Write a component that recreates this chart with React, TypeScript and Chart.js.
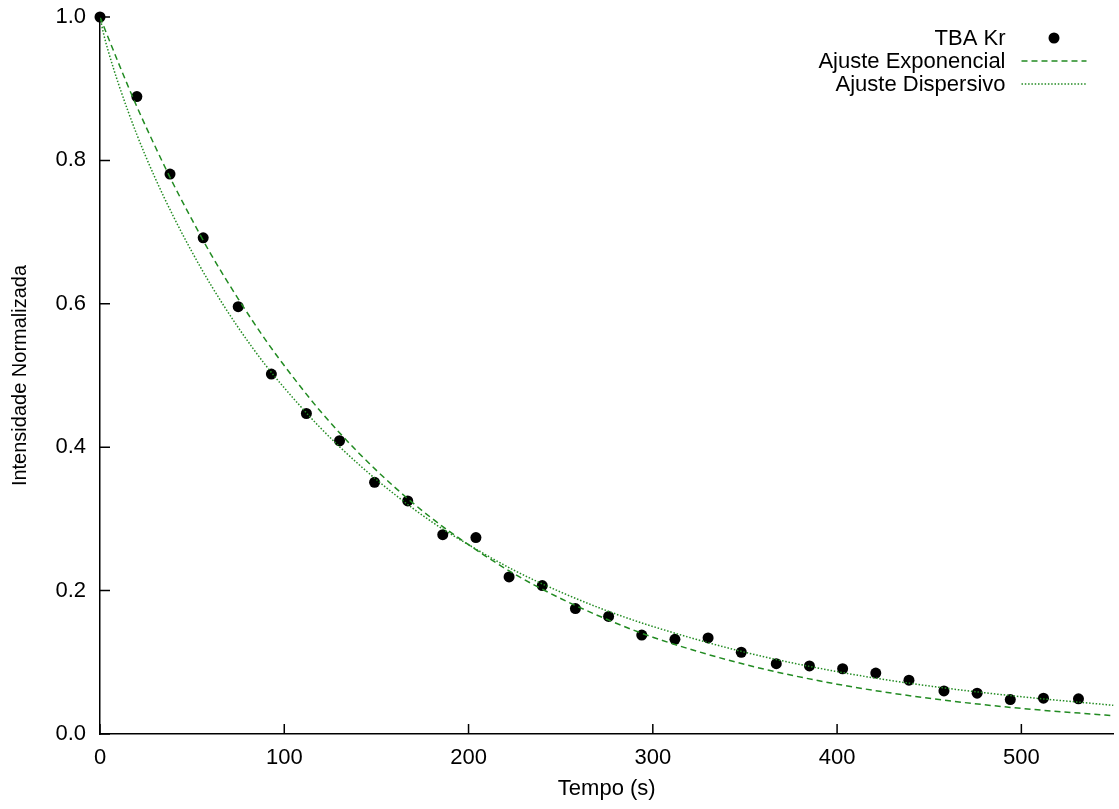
import React, { useEffect, useRef } from "react";
import { Chart, registerables } from "chart.js";

Chart.register(...registerables);

// Measured data: TBA Kr
const timeSeconds = [0, 20, 38, 56, 75, 93, 112, 130, 149, 167, 186, 204, 222, 240, 258, 276, 294, 312, 330, 348, 367, 385, 403, 421, 439, 458, 476, 494, 512, 531];
const tbaKr = [1.0, 0.889, 0.781, 0.692, 0.596, 0.502, 0.447, 0.409, 0.351, 0.325, 0.278, 0.274, 0.219, 0.207, 0.175, 0.164, 0.138, 0.132, 0.134, 0.114, 0.098, 0.095, 0.091, 0.085, 0.075, 0.060, 0.057, 0.048, 0.050, 0.049];

const expTimes = [0, 10, 20, 30, 40, 50, 60, 75, 90, 105, 120, 140, 160, 180, 200, 225, 250, 275, 300, 350, 400, 450, 500, 550];
const expValues = [1.0, 0.936, 0.875, 0.819, 0.766, 0.717, 0.670, 0.607, 0.549, 0.497, 0.449, 0.393, 0.344, 0.301, 0.264, 0.223, 0.189, 0.160, 0.135, 0.097, 0.0695, 0.0498, 0.0357, 0.0256];

const dispTimes = [0, 2, 5, 10, 20, 30, 40, 50, 60, 75, 90, 105, 120, 140, 160, 180, 200, 225, 250, 275, 300, 350, 400, 450, 500, 550];
const dispValues = [1.0, 0.976, 0.948, 0.907, 0.836, 0.775, 0.721, 0.672, 0.627, 0.567, 0.514, 0.468, 0.426, 0.377, 0.334, 0.296, 0.264, 0.228, 0.198, 0.172, 0.150, 0.114, 0.087, 0.067, 0.052, 0.040];

const xTickValues = [0, 100, 200, 300, 400, 500];
const yTickValues = [0, 0.2, 0.4, 0.6, 0.8, 1.0];

const seriesLabels = ["TBA Kr", "Ajuste Exponencial", "Ajuste Dispersivo"];

const FONT = "'Liberation Sans', Arial, Helvetica, sans-serif";
const GREEN = "rgb(34,139,34)";

const inwardTicks = {
  id: "inwardTicks",
  afterDatasetsDraw(chart: any) {
    const { ctx, chartArea, scales } = chart;
    const xs = scales.x;
    const ys = scales.y;
    ctx.save();
    ctx.strokeStyle = "#000";
    ctx.lineWidth = 1.5;
    ctx.beginPath();
    ys.ticks.forEach((t: any) => {
      const py = ys.getPixelForValue(t.value);
      ctx.moveTo(chartArea.left, py);
      ctx.lineTo(chartArea.left + 10, py);
    });
    xs.ticks.forEach((t: any) => {
      const px = xs.getPixelForValue(t.value);
      ctx.moveTo(px, chartArea.bottom);
      ctx.lineTo(px, chartArea.bottom - 10);
    });
    ctx.stroke();
    ctx.restore();
  },
};

const rightLegend = {
  id: "rightLegend",
  afterDraw(chart: any) {
    const { ctx, chartArea } = chart;
    const textRight = chartArea.right - 108;
    const sampleL = chartArea.right - 92;
    const sampleR = chartArea.right - 27;
    const top = chartArea.top + 21;
    const rowH = 23;
    ctx.save();
    ctx.font = `22px ${FONT}`;
    ctx.textAlign = "right";
    ctx.textBaseline = "middle";
    chart.data.datasets.forEach((ds: any, i: number) => {
      const y = top + i * rowH;
      ctx.fillStyle = "#000";
      ctx.fillText(ds.label, textRight, y + 1);
      if (ds.showLine) {
        ctx.strokeStyle = ds.borderColor;
        ctx.lineWidth = ds.borderWidth;
        ctx.setLineDash(ds.borderDash || []);
        ctx.beginPath();
        ctx.moveTo(sampleL, y);
        ctx.lineTo(sampleR, y);
        ctx.stroke();
        ctx.setLineDash([]);
      } else {
        ctx.fillStyle = ds.pointBackgroundColor;
        ctx.beginPath();
        ctx.arc((sampleL + sampleR) / 2, y, ds.pointRadius, 0, Math.PI * 2);
        ctx.fill();
      }
    });
    ctx.restore();
  },
};

export default function App() {
  const canvasRef = useRef<HTMLCanvasElement | null>(null);

  useEffect(() => {
    const canvas = canvasRef.current;
    if (!canvas) return;
    const chart = new Chart(canvas, {
      type: "scatter",
      data: {
        datasets: [
          {
            label: seriesLabels[0],
            data: timeSeconds.map((t, i) => ({ x: t, y: tbaKr[i] })),
            showLine: false,
            pointRadius: 5.5,
            pointBackgroundColor: "#000",
            pointBorderWidth: 0,
            pointBorderColor: "#000",
            clip: false,
            order: 3,
          },
          {
            label: seriesLabels[1],
            data: expTimes.map((t, i) => ({ x: t, y: expValues[i] })),
            showLine: true,
            borderColor: GREEN,
            borderWidth: 1.5,
            borderDash: [6, 4],
            pointRadius: 0,
            cubicInterpolationMode: "monotone",
            order: 2,
          },
          {
            label: seriesLabels[2],
            data: dispTimes.map((t, i) => ({ x: t, y: dispValues[i] })),
            showLine: true,
            borderColor: GREEN,
            borderWidth: 1.5,
            borderDash: [1.5, 1.8],
            pointRadius: 0,
            cubicInterpolationMode: "monotone",
            order: 1,
          },
        ],
      },
      options: {
        animation: false,
        responsive: false,
        events: [],
        layout: { padding: { top: 17, right: 1, left: 0, bottom: 0 } },
        plugins: {
          legend: { display: false },
          tooltip: { enabled: false },
        },
        scales: {
          x: {
            type: "linear",
            min: 0,
            max: 550,
            afterBuildTicks: (scale: any) => {
              scale.ticks = xTickValues.map((v) => ({ value: v }));
            },
            afterFit: (scale: any) => {
              scale.height = 75;
              scale.paddingLeft = 0;
              scale.paddingRight = 0;
            },
            grid: { display: false, drawTicks: false, tickLength: 0 },
            border: { display: true, color: "#000", width: 1.5 },
            ticks: {
              padding: 11,
              color: "#000",
              font: { family: FONT, size: 22, lineHeight: 1.2 },
              maxRotation: 0,
              callback: (v: any) => String(v),
            },
            title: {
              display: true,
              text: "Tempo (s)",
              color: "#000",
              font: { family: FONT, size: 22, lineHeight: 1.2 },
              padding: { top: 0, bottom: 7 },
            },
          },
          y: {
            type: "linear",
            min: 0,
            max: 1,
            afterBuildTicks: (scale: any) => {
              scale.ticks = yTickValues.map((v) => ({ value: v }));
            },
            afterFit: (scale: any) => {
              scale.width = 100;
              scale.paddingTop = 0;
              scale.paddingBottom = 0;
            },
            grid: { display: false, drawTicks: false, tickLength: 0 },
            border: { display: true, color: "#000", width: 1.5 },
            ticks: {
              padding: 14,
              color: "#000",
              font: { family: FONT, size: 22, lineHeight: 1.2 },
              callback: (v: any) => Number(v).toFixed(1),
            },
            title: {
              display: true,
              text: "Intensidade Normalizada",
              color: "#000",
              font: { family: FONT, size: 20, lineHeight: 1.2 },
              padding: { top: 8, bottom: 0 },
            },
          },
        },
      },
      plugins: [inwardTicks, rightLegend],
    } as any);
    return () => chart.destroy();
  }, []);

  return (
    <div style={{ position: "absolute", left: 0, top: 0, width: 1119, height: 809, background: "#fff" }}>
      <canvas ref={canvasRef} width={1119} height={809} style={{ display: "block" }} />
    </div>
  );
}
